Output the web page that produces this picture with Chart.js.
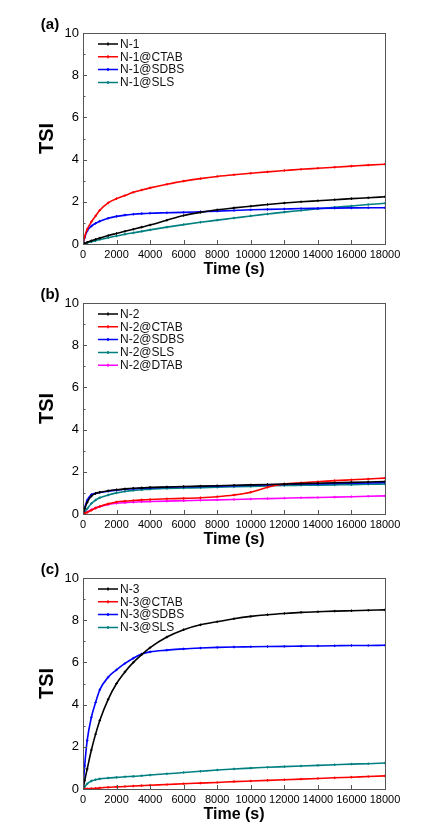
<!DOCTYPE html>
<html>
<head>
<meta charset="utf-8">
<title>TSI vs time</title>
<script src="https://cdn.jsdelivr.net/npm/chart.js@4.4.1/dist/chart.umd.min.js"></script>
<style>
  body { margin: 0; background: #fff; width: 429px; height: 839px; overflow: hidden; position: relative; }
  canvas { position: absolute; left: 0; }
</style>
</head>
<body>
<canvas id="chartA" width="429" height="290" style="top:0px"></canvas>
<canvas id="chartB" width="429" height="290" style="top:270px"></canvas>
<canvas id="chartC" width="429" height="290" style="top:545px"></canvas>
<script>
// time axis (s), shared by all three panels
const timeSec = [0, 100, 250, 500, 750, 1000, 1500, 2000, 2500, 3000, 3500, 4000,
  5000, 6000, 7000, 8000, 9000, 10000, 11000, 12000, 13000, 14000, 15000, 16000, 17000, 18000];

const xTickValues = [0, 2000, 4000, 6000, 8000, 10000, 12000, 14000, 16000, 18000];
const yTickValues = [0, 2, 4, 6, 8, 10];
const yMinorValues = [1, 3, 5, 7, 9];

// ── (a) N-1 ──
const namesA = ['N-1', 'N-1@CTAB', 'N-1@SDBS', 'N-1@SLS'];
const tsiN1 = [0, 0.03, 0.08, 0.15, 0.22, 0.28, 0.4, 0.5, 0.6, 0.7, 0.8, 0.9,
  1.13, 1.35, 1.5, 1.62, 1.71, 1.79, 1.87, 1.94, 2.0, 2.05, 2.1, 2.15, 2.19, 2.24];
const tsiN1CTAB = [0, 0.35, 0.7, 1.05, 1.33, 1.6, 1.95, 2.15, 2.3, 2.45, 2.56, 2.66,
  2.83, 2.98, 3.1, 3.2, 3.28, 3.35, 3.42, 3.48, 3.54, 3.59, 3.64, 3.69, 3.74, 3.78];
const tsiN1SDBS = [0, 0.3, 0.62, 0.85, 0.98, 1.08, 1.22, 1.31, 1.37, 1.41, 1.44, 1.46,
  1.48, 1.5, 1.53, 1.56, 1.59, 1.62, 1.64, 1.66, 1.68, 1.69, 1.7, 1.71, 1.72, 1.72];
const tsiN1SLS = [0, 0.02, 0.06, 0.11, 0.16, 0.21, 0.3, 0.38, 0.46, 0.53, 0.6, 0.67,
  0.8, 0.92, 1.03, 1.13, 1.23, 1.33, 1.42, 1.51, 1.59, 1.67, 1.74, 1.8, 1.87, 1.93];

// ── (b) N-2 ──
const namesB = ['N-2', 'N-2@CTAB', 'N-2@SDBS', 'N-2@SLS', 'N-2@DTAB'];
const tsiN2 = [0, 0.25, 0.55, 0.85, 0.97, 1.03, 1.1, 1.15, 1.19, 1.22, 1.24, 1.26,
  1.28, 1.3, 1.32, 1.34, 1.36, 1.38, 1.4, 1.42, 1.44, 1.46, 1.48, 1.5, 1.52, 1.54];
const tsiN2CTAB = [0, 0.03, 0.08, 0.18, 0.28, 0.36, 0.48, 0.57, 0.61, 0.64, 0.67, 0.69,
  0.72, 0.74, 0.77, 0.82, 0.9, 1.03, 1.27, 1.42, 1.48, 1.53, 1.58, 1.62, 1.66, 1.7];
const tsiN2SDBS = [0, 0.3, 0.65, 0.92, 0.98, 1.02, 1.08, 1.13, 1.17, 1.2, 1.22, 1.24,
  1.27, 1.29, 1.3, 1.32, 1.34, 1.36, 1.38, 1.4, 1.42, 1.43, 1.45, 1.46, 1.47, 1.49];
const tsiN2SLS = [0, 0.1, 0.25, 0.5, 0.66, 0.77, 0.9, 1.0, 1.07, 1.12, 1.15, 1.18,
  1.21, 1.23, 1.25, 1.27, 1.29, 1.31, 1.33, 1.35, 1.36, 1.37, 1.38, 1.39, 1.41, 1.42];
const tsiN2DTAB = [0, 0.04, 0.1, 0.2, 0.28, 0.35, 0.45, 0.51, 0.54, 0.56, 0.58, 0.59,
  0.61, 0.63, 0.65, 0.67, 0.69, 0.71, 0.73, 0.75, 0.77, 0.78, 0.8, 0.82, 0.84, 0.86];

// ── (c) N-3 ──
const namesC = ['N-3', 'N-3@CTAB', 'N-3@SDBS', 'N-3@SLS'];
const tsiN3 = [0, 0.4, 0.95, 1.85, 2.6, 3.25, 4.25, 5.0, 5.55, 6.0, 6.37, 6.7,
  7.2, 7.55, 7.78, 7.93, 8.07, 8.18, 8.26, 8.32, 8.37, 8.4, 8.43, 8.45, 8.47, 8.49];
const tsiN3CTAB = [0, 0, 0.01, 0.02, 0.03, 0.05, 0.08, 0.1, 0.12, 0.14, 0.16, 0.18,
  0.21, 0.25, 0.28, 0.31, 0.35, 0.38, 0.41, 0.44, 0.47, 0.5, 0.53, 0.56, 0.59, 0.62];
const tsiN3SDBS = [0, 1.1, 2.3, 3.4, 4.1, 4.7, 5.3, 5.65, 5.95, 6.2, 6.4, 6.5,
  6.58, 6.64, 6.68, 6.71, 6.73, 6.74, 6.75, 6.76, 6.77, 6.78, 6.79, 6.8, 6.8, 6.81];
const tsiN3SLS = [0, 0.1, 0.25, 0.38, 0.44, 0.48, 0.52, 0.55, 0.58, 0.6, 0.63, 0.66,
  0.72, 0.78, 0.84, 0.9, 0.95, 0.99, 1.03, 1.06, 1.09, 1.12, 1.15, 1.18, 1.2, 1.23];

const colorsMain = ['#000000', '#ff0000', '#0000ff', '#008080'];
const colorsB = ['#000000', '#ff0000', '#0000ff', '#008080', '#ff00ff'];

const FONT = "'Liberation Sans', Arial, sans-serif";
Chart.defaults.font.family = FONT;
Chart.defaults.color = '#000';

// frame, inward ticks, panel letter and legend
const decorPlugin = {
  id: 'decor',
  afterDraw(chart, args, opts) {
    const ctx = chart.ctx;
    const a = chart.chartArea;
    const xs = chart.scales.x, ys = chart.scales.y;
    ctx.save();
    ctx.strokeStyle = '#555';
    ctx.lineWidth = 1;
    ctx.strokeRect(a.left + 0.5, a.top + 0.5, a.right - a.left, a.bottom - a.top);

    ctx.beginPath();
    yTickValues.forEach(v => {
      const py = Math.round(ys.getPixelForValue(v)) + 0.5;
      ctx.moveTo(a.left, py); ctx.lineTo(a.left + 4, py);
    });
    yMinorValues.forEach(v => {
      const py = Math.round(ys.getPixelForValue(v)) + 0.5;
      ctx.moveTo(a.left, py); ctx.lineTo(a.left + 2.5, py);
    });
    xTickValues.forEach(v => {
      const px = Math.round(xs.getPixelForValue(v)) + 0.5;
      ctx.moveTo(px, a.bottom); ctx.lineTo(px, a.bottom - 4);
    });
    ctx.stroke();

    // panel letter
    ctx.fillStyle = '#000';
    ctx.font = 'bold 15px ' + FONT;
    ctx.textAlign = 'center';
    ctx.textBaseline = 'middle';
    ctx.fillText(opts.letter, 50, 25);

    // legend, top-left inside the plot
    ctx.font = '12px ' + FONT;
    ctx.textAlign = 'left';
    chart.data.datasets.forEach((ds, i) => {
      const y = a.top + 11 + i * 12.8;
      ctx.strokeStyle = ds.borderColor;
      ctx.lineWidth = 1.5;
      ctx.beginPath();
      ctx.moveTo(98, y); ctx.lineTo(118, y);
      ctx.moveTo(108, y - 1.5); ctx.lineTo(108, y + 1.5);
      ctx.stroke();
      ctx.fillStyle = '#111';
      ctx.fillText(ds.label, 120, y + 0.5);
    });
    ctx.restore();
  }
};

function makePanel(canvasId, letter, names, series, colors) {
  const datasets = series.map((vals, i) => ({
    label: names[i],
    data: timeSec.map((t, k) => ({ x: t, y: vals[k] })),
    borderColor: colors[i],
    backgroundColor: colors[i],
    borderWidth: 1.6,
    pointStyle: 'cross',
    pointRadius: 1.3,
    pointBorderWidth: 1,
    cubicInterpolationMode: 'monotone',
    fill: false
  }));

  new Chart(document.getElementById(canvasId).getContext('2d'), {
    type: 'line',
    data: { datasets },
    plugins: [decorPlugin],
    options: {
      responsive: false,
      animation: false,
      events: [],
      layout: { padding: { top: 33, right: 44, bottom: 11, left: 0 } },
      plugins: {
        legend: { display: false },
        tooltip: { enabled: false },
        decor: { letter }
      },
      scales: {
        x: {
          type: 'linear',
          min: 0, max: 18000,
          grid: { display: false, drawTicks: false },
          border: { display: false },
          afterBuildTicks: s => { s.ticks = xTickValues.map(v => ({ value: v })); },
          ticks: { font: { size: 11 }, padding: 4, maxRotation: 0, autoSkip: false,
                   callback: v => String(v) },
          title: { display: true, text: 'Time (s)', font: { size: 16, weight: 'bold' },
                   padding: { top: 0, bottom: 0 } },
          afterFit: s => { s.height = 35; }
        },
        y: {
          min: 0, max: 10,
          grid: { display: false, drawTicks: false },
          border: { display: false },
          afterBuildTicks: s => { s.ticks = yTickValues.map(v => ({ value: v })); },
          ticks: { font: { size: 13 }, padding: 4 },
          title: { display: true, text: 'TSI', font: { size: 20, weight: 'bold' },
                   padding: { top: 35, bottom: 0 } },
          afterFit: s => { s.width = 83; }
        }
      }
    }
  });
}

makePanel('chartA', '(a)', namesA, [tsiN1, tsiN1CTAB, tsiN1SDBS, tsiN1SLS], colorsMain);
makePanel('chartB', '(b)', namesB, [tsiN2, tsiN2CTAB, tsiN2SDBS, tsiN2SLS, tsiN2DTAB], colorsB);
makePanel('chartC', '(c)', namesC, [tsiN3, tsiN3CTAB, tsiN3SDBS, tsiN3SLS], colorsMain);
</script>
</body>
</html>
